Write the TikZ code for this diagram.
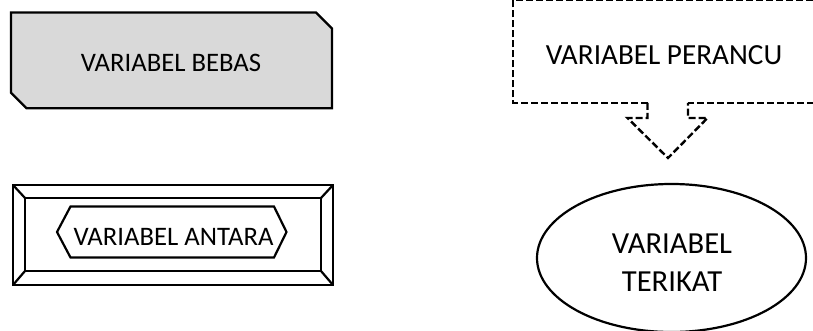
\documentclass[tikz,border=0pt]{standalone}
\usepackage{fontspec}
\setmainfont{Carlito}
\usetikzlibrary{shapes.geometric}
\definecolor{boxgray}{HTML}{D9D9D9}
\tikzset{
  outline/.style={draw=black, line width=2.2pt, line join=miter},
  dashline/.style={draw=black, line width=2.4pt, dash pattern=on 7pt off 3pt},
  label/.style={inner sep=0pt, anchor=base, text=black},
}
\begin{document}
\begin{tikzpicture}[x=1pt, y=-1pt]
  \useasboundingbox (0,0) rectangle (813,331);

  % independent variable: grey box with two clipped corners
  \draw[outline, fill=boxgray]
    (11,12.5) -- (316,12.5) -- (332,28.5) -- (332,108.3)
    -- (26.5,108.3) -- (11,92.7) -- cycle;
  \node[label, font=\fontsize{26.7}{32}\selectfont] (bebas) at (171,71.7) {VARIABEL BEBAS};

  % intervening variable: bevelled frame around a hexagon
  \draw[outline] (13,185) rectangle (333,285);
  \draw[outline] (25,198) rectangle (321,271);
  \draw[outline] (13,185) -- (25,198);
  \draw[outline] (333,185) -- (321,198);
  \draw[outline] (13,285) -- (25,271);
  \draw[outline] (333,285) -- (321,271);
  \draw[outline]
    (57,232) -- (70.5,206.5) -- (274,206.5) -- (286.5,232)
    -- (274,257.5) -- (70.5,257.5) -- cycle;
  \node[label, font=\fontsize{26.7}{32}\selectfont] (antara) at (173.5,245) {VARIABEL ANTARA};

  % confounding variable: dashed callout pointing down
  \draw[dashline, line join=miter]
    (647.5,103) -- (513,103) -- (513,0) -- (823,0) -- (823,103) -- (688,103);
  \draw[dashline, line join=miter]
    (647.5,103) -- (647.5,118) -- (627.5,118) -- (668,158)
    -- (707.5,118) -- (688,118) -- (688,103);
  \node[label, font=\fontsize{29.2}{35}\selectfont] (perancu) at (664,65) {VARIABEL PERANCU};

  % dependent variable: ellipse
  \node[draw=black, line width=2.2pt, ellipse, minimum width=269pt, minimum height=148pt, inner sep=0pt]
    (terikat) at (671.5,258) {};
  \node[label, align=center, font=\fontsize{30.6}{38.5}\selectfont] (terikattext) at (672,291.7)
    {VARIABEL\\TERIKAT};
\end{tikzpicture}
\end{document}
